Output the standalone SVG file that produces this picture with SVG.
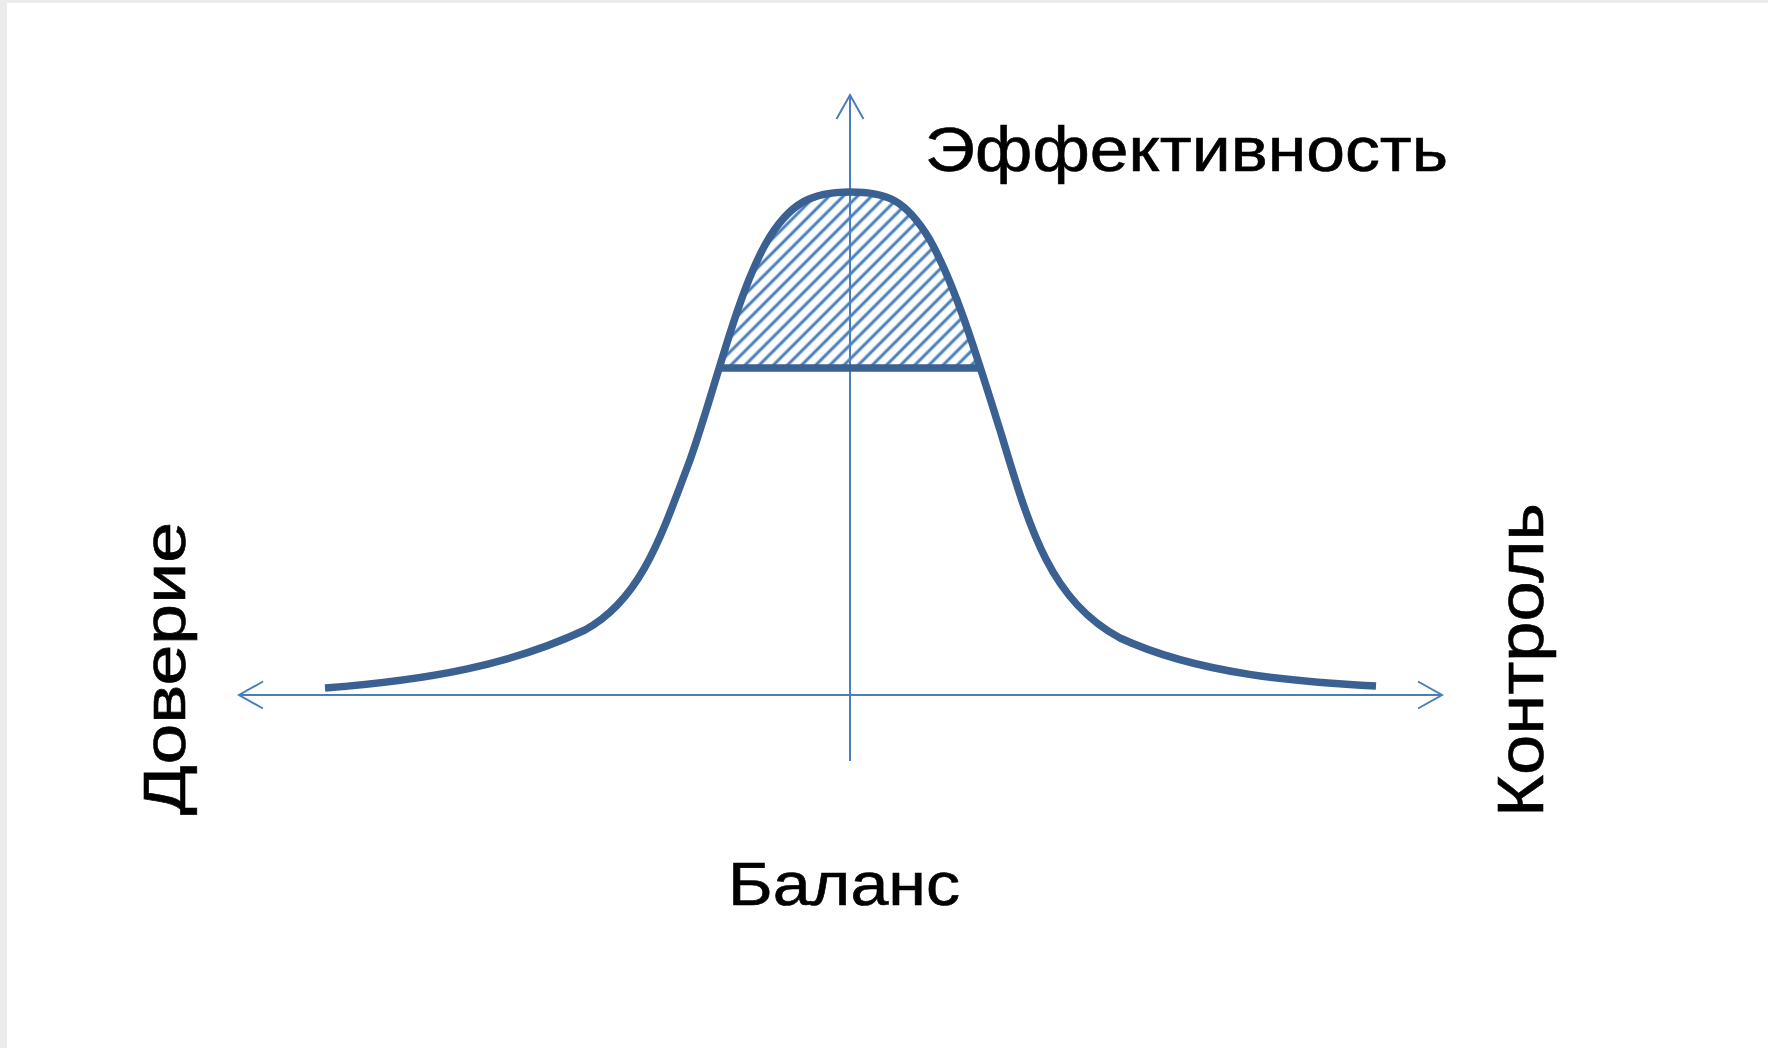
<svg xmlns="http://www.w3.org/2000/svg" width="1768" height="1048" viewBox="0 0 1768 1048">
  <style>
    .axis { fill: none; stroke: #4a7ebb; stroke-width: 2; }
    .curve { fill: none; stroke: #3a6191; stroke-width: 7.5; stroke-linejoin: round; }
    .lbl { font-family: "Liberation Sans", Arial, sans-serif; fill: #000; stroke: #000; stroke-width: 0.6; }
  </style>
  <defs>
    <marker id="arr" markerUnits="userSpaceOnUse" markerWidth="40" markerHeight="40" viewBox="-30 -20 40 40" refX="0" refY="0" orient="auto-start-reverse" overflow="visible">
      <polyline points="-24,-13.5 0,0 -24,13.5" fill="none" stroke="#4a7ebb" stroke-width="2"/>
    </marker>
    <pattern id="hatch" patternUnits="userSpaceOnUse" width="10" height="10" patternTransform="rotate(45)">
      <line x1="5" y1="0" x2="5" y2="10" stroke="#4a7ebb" stroke-width="3"/>
    </pattern>
    <clipPath id="topClip">
      <rect x="0" y="0" width="1768" height="368"/>
    </clipPath>
  </defs>

  <rect x="0" y="0" width="1768" height="1048" fill="#ececec"/>
  <rect x="7" y="3" width="1761" height="1045" fill="#ffffff"/>

  <g id="hatched-area" clip-path="url(#topClip)">
    <path fill="url(#hatch)" d="M325,688 C430,680 510,665 585,630 C640,600 660,540 690,460 C715,390 735,300 765,245 C790,200 815,192 850,192 C885,192 905,198 930,240 C955,285 975,350 1000,430 C1030,530 1050,600 1120,638 C1200,675 1300,682 1376,686 Z"/>
  </g>

  <g id="connectors">
    <path id="x-axis" class="axis" d="M239,695 H1442" marker-start="url(#arr)" marker-end="url(#arr)"/>
    <path id="y-axis" class="axis" d="M850,761 V95" marker-end="url(#arr)"/>
  </g>

  <g id="curve">
    <path class="curve" d="M325,688 C430,680 510,665 585,630 C640,600 660,540 690,460 C715,390 735,300 765,245 C790,200 815,192 850,192 C885,192 905,198 930,240 C955,285 975,350 1000,430 C1030,530 1050,600 1120,638 C1200,675 1300,682 1376,686"/>
    <line class="curve" x1="721" y1="368" x2="979" y2="368"/>
  </g>

  <g id="label-effect">
    <text class="lbl" x="925" y="171" font-size="63" textLength="523" lengthAdjust="spacingAndGlyphs">Эффективность</text>
  </g>
  <g id="label-balance">
    <text class="lbl" x="728" y="905" font-size="61" textLength="232" lengthAdjust="spacingAndGlyphs">Баланс</text>
  </g>
  <g id="label-trust">
    <text class="lbl" transform="translate(185,815) rotate(-90)" x="0" y="0" font-size="59" textLength="293" lengthAdjust="spacingAndGlyphs">Доверие</text>
  </g>
  <g id="label-control">
    <text class="lbl" transform="translate(1543,817) rotate(-90)" x="0" y="0" font-size="64" textLength="314" lengthAdjust="spacingAndGlyphs">Контроль</text>
  </g>
</svg>
